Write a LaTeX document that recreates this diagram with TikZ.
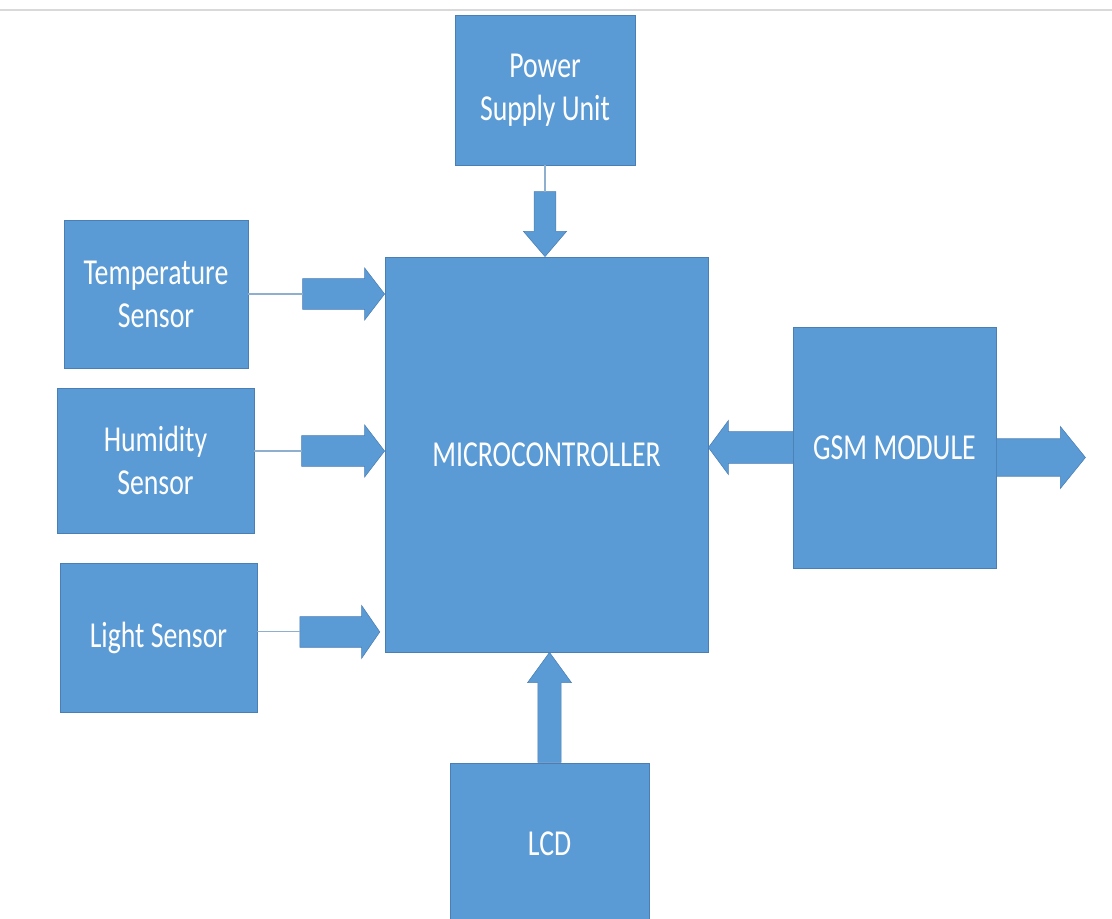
\documentclass[tikz,border=0pt]{standalone}
\usepackage{fontspec}
\setmainfont{Carlito}[FakeStretch=0.76]
\usepackage{tikz}
\usetikzlibrary{shapes.arrows}
\usetikzlibrary{calc}
\definecolor{boxblue}{HTML}{5B9BD5}
\definecolor{boxline}{HTML}{4A7FB5}
\definecolor{wireblue}{HTML}{8FAFCF}

\begin{document}
\begin{tikzpicture}[
  block/.style={draw=boxline,fill=boxblue,text=white,line width=0.6pt,align=center,inner sep=0pt,
    font=\fontsize{26}{30.5}\selectfont},
  fat/.style={single arrow,draw=boxline,fill=boxblue,line width=0.4pt,outer sep=0pt},
  wire/.style={draw=wireblue,line width=0.8pt}]
      \useasboundingbox (0,0) rectangle (27.8,-22.95);
      \draw[gray!30,line width=2pt] (0,-0.25) -- (27.8,-0.25);

      % blocks
      \node[block,minimum width=4.5cm,minimum height=3.75cm] (power) at (13.625,-2.25) {Power\\Supply Unit};
      \node[block,minimum width=8.075cm,minimum height=9.875cm] (mcu) at (13.6625,-11.3625) {MICROCONTROLLER};
      \node[block,minimum width=4.6cm,minimum height=3.7cm] (temp) at (3.9,-7.35) {Temperature\\Sensor};
      \node[block,minimum width=4.925cm,minimum height=3.625cm] (hum) at (3.8875,-11.5125) {Humidity\\Sensor};
      \node[block,minimum width=4.925cm,minimum height=3.725cm] (light) at (3.9625,-15.9375) {Light Sensor};
      \node[block,minimum width=5.075cm,minimum height=6.025cm] (gsm) at (22.3625,-11.1875) {GSM MODULE};
      \node[block,minimum width=4.975cm,minimum height=4.05cm] (lcd) at (13.7375,-21.1) {LCD};

      % fat arrows
      \node[fat,shape border rotate=270,minimum height=1.625cm,minimum width=1.075cm,inner sep=0.25cm,
        single arrow tip angle=81,anchor=tip] (pwrarrow) at (power.south |- mcu.north) {};
      \node[fat,minimum height=2.05cm,minimum width=1.3cm,inner sep=0.35cm,
        single arrow tip angle=105,anchor=tip] (temparrow) at (mcu.west |- temp.east) {};
      \node[fat,minimum height=2.075cm,minimum width=1.3cm,inner sep=0.35cm,
        single arrow tip angle=105,anchor=tip] (humarrow) at ($(mcu.west |- hum.east)+(0,0.2375)$) {};
      \node[fat,minimum height=2cm,minimum width=1.325cm,inner sep=0.3375cm,
        single arrow tip angle=111,anchor=tip] (lightarrow) at ($(mcu.west |- light.east)+(-0.12,0.14)$) {};
      \node[fat,shape border rotate=180,minimum height=2.125cm,minimum width=1.35cm,inner sep=0.35cm,
        single arrow tip angle=107,anchor=tip] (gsmin) at (mcu.east |- gsm.west) {};
      \node[fat,minimum height=2.225cm,minimum width=1.55cm,inner sep=0.375cm,
        single arrow tip angle=102,anchor=tail] (gsmout) at ($(gsm.east)+(0,-0.25)$) {};
      \node[fat,shape border rotate=90,minimum height=2.75cm,minimum width=1.1cm,inner sep=0.275cm,
        single arrow tip angle=72,anchor=tip] (lcdarrow) at (lcd.north |- mcu.south) {};

      % thin leads
      \draw[wire] (power.south) -- (pwrarrow.tail);
      \draw[wire] (temparrow.tail) -- (temparrow.tail -| temp.east);
      \draw[wire] (humarrow.tail) -- (humarrow.tail -| hum.east);
      \draw[wire] (lightarrow.tail) -- (lightarrow.tail -| light.east);

\end{tikzpicture}
\end{document}
